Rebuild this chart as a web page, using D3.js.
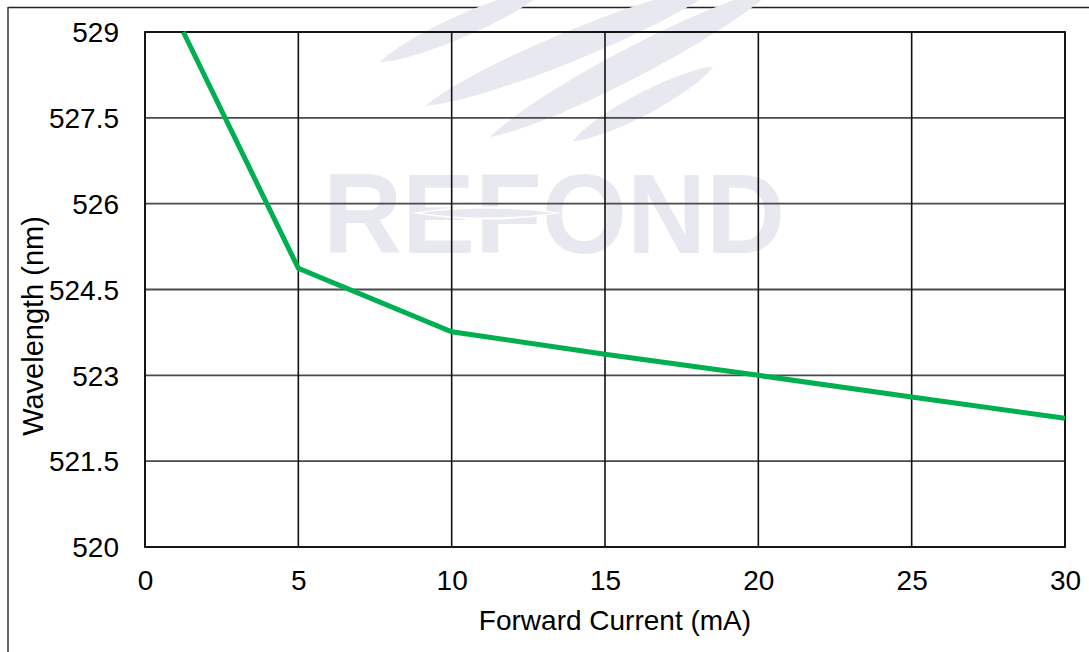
<!DOCTYPE html>
<html>
<head>
<meta charset="utf-8">
<script src="https://cdn.jsdelivr.net/npm/d3@7"></script>
<style>
  html, body { margin: 0; padding: 0; background: #fff; }
  svg { display: block; }
  text { font-family: "Liberation Sans", Arial, sans-serif; fill: #000; }
</style>
</head>
<body>
<svg id="chart" width="1089" height="652"></svg>
<script>
// ---- data ----
const current = [1.25, 5, 10, 15, 20, 25, 30];                 // Forward Current (mA)
const wavelength = [529.0, 524.87, 523.76, 523.37, 523.0, 522.62, 522.25]; // Wavelength (nm)
const xTicks = [0, 5, 10, 15, 20, 25, 30];
const yTicks = [520, 521.5, 523, 524.5, 526, 527.5, 529];
const yTickLabels = ["520", "521.5", "523", "524.5", "526", "527.5", "529"];
const xTitle = "Forward Current (mA)";
const yTitle = "Wavelength (nm)";

// ---- layout ----
const W = 1089, H = 652;
const plot = { left: 145, right: 1065, top: 32, bottom: 547 };
const svg = d3.select("#chart");

const x = d3.scaleLinear().domain([0, 30]).range([plot.left, plot.right]);
const y = d3.scaleLinear().domain([520, 529]).range([plot.bottom, plot.top]);

// ---- outer frame ----
svg.append("line").attr("x1", 8).attr("x2", W).attr("y1", 7.5).attr("y2", 7.5)
  .attr("stroke", "#222").attr("stroke-width", 1.6);
svg.append("line").attr("x1", 8).attr("x2", 8).attr("y1", 7).attr("y2", H)
  .attr("stroke", "#444").attr("stroke-width", 1.6);

// ---- watermark (decorative) ----
const wm = svg.append("g").attr("fill", "#e8e8f1");
const leaves = [
  [[380, 62], [548, -12], 22],
  [[425, 106], [722, -16], 30],
  [[490, 137], [775, -12], 30],
  [[573, 141], [713, 67], 22]
];
leaves.forEach(([a, b, t]) => {
  const dx = b[0] - a[0], dy = b[1] - a[1];
  const len = Math.hypot(dx, dy);
  const k = t / 2 / 0.75;
  const nx = -dy / len * k, ny = dx / len * k;
  const p1 = [a[0] + dx * 0.2, a[1] + dy * 0.2], p2 = [a[0] + dx * 0.8, a[1] + dy * 0.8];
  wm.append("path").attr("d",
    `M${a[0]},${a[1]} C${p1[0] + nx},${p1[1] + ny} ${p2[0] + nx},${p2[1] + ny} ${b[0]},${b[1]} ` +
    `C${p2[0] - nx},${p2[1] - ny} ${p1[0] - nx},${p1[1] - ny} ${a[0]},${a[1]}Z`);
});
wm.append("text").attr("x", 323).attr("y", 253)
  .attr("textLength", 462).attr("lengthAdjust", "spacingAndGlyphs")
  .style("font-size", "113px").style("font-weight", "bold").style("fill", "#e8e8f1")
  .text("REFOND");
wm.append("path").attr("d", "M412,213 Q487,200 562,213 Q487,226 412,213Z").attr("fill", "#fff");
wm.append("path").attr("d", "M420,213 Q487,204 555,213 Q487,222 420,213Z");

// ---- grid ----
const grid = svg.append("g");
grid.selectAll("line.h").data(yTicks).join("line").attr("class", "h")
  .attr("x1", plot.left).attr("x2", plot.right)
  .attr("y1", d => y(d)).attr("y2", d => y(d))
  .attr("stroke", "#4a4a4a").attr("stroke-width", 1.8);
grid.selectAll("line.v").data(xTicks).join("line").attr("class", "v")
  .attr("x1", d => x(d)).attr("x2", d => x(d))
  .attr("y1", plot.top).attr("y2", plot.bottom)
  .attr("stroke", "#111").attr("stroke-width", 1.6);
svg.append("rect").attr("x", plot.left).attr("y", plot.top)
  .attr("width", plot.right - plot.left).attr("height", plot.bottom - plot.top)
  .attr("fill", "none").attr("stroke", "#111").attr("stroke-width", 1.8);

// ---- axes labels via d3 axes ----
const xAxis = d3.axisBottom(x).tickValues(xTicks).tickSize(0).tickPadding(0);
const gx = svg.append("g").attr("transform", `translate(0,${plot.bottom})`).call(xAxis);
gx.select(".domain").remove();
gx.selectAll("text").attr("y", 43).attr("dy", 0).style("font-size", "28px")
  .style("font-family", "'Liberation Sans', Arial, sans-serif").attr("fill", "#000");

const yAxis = d3.axisLeft(y).tickValues(yTicks).tickSize(0).tickPadding(0)
  .tickFormat((d, i) => yTickLabels[i]);
const gy = svg.append("g").attr("transform", `translate(${plot.left},0)`).call(yAxis);
gy.select(".domain").remove();
gy.selectAll("text").attr("x", -26).attr("dy", "0.35em").style("font-size", "28px")
  .style("font-family", "'Liberation Sans', Arial, sans-serif").attr("fill", "#000");

// ---- titles ----
svg.append("text").attr("x", 615).attr("y", 630)
  .attr("text-anchor", "middle").style("font-size", "28px").text(xTitle);
svg.append("text").attr("transform", `translate(43,326) rotate(-90)`)
  .attr("text-anchor", "middle").style("font-size", "29px").text(yTitle);

// ---- line ----
const pts = current.map((c, i) => [c, wavelength[i]]);
svg.append("path").datum(pts)
  .attr("d", d3.line().x(d => x(d[0])).y(d => y(d[1])))
  .attr("fill", "none").attr("stroke", "#00b050").attr("stroke-width", 5)
  .attr("stroke-linejoin", "miter");
</script>
</body>
</html>
